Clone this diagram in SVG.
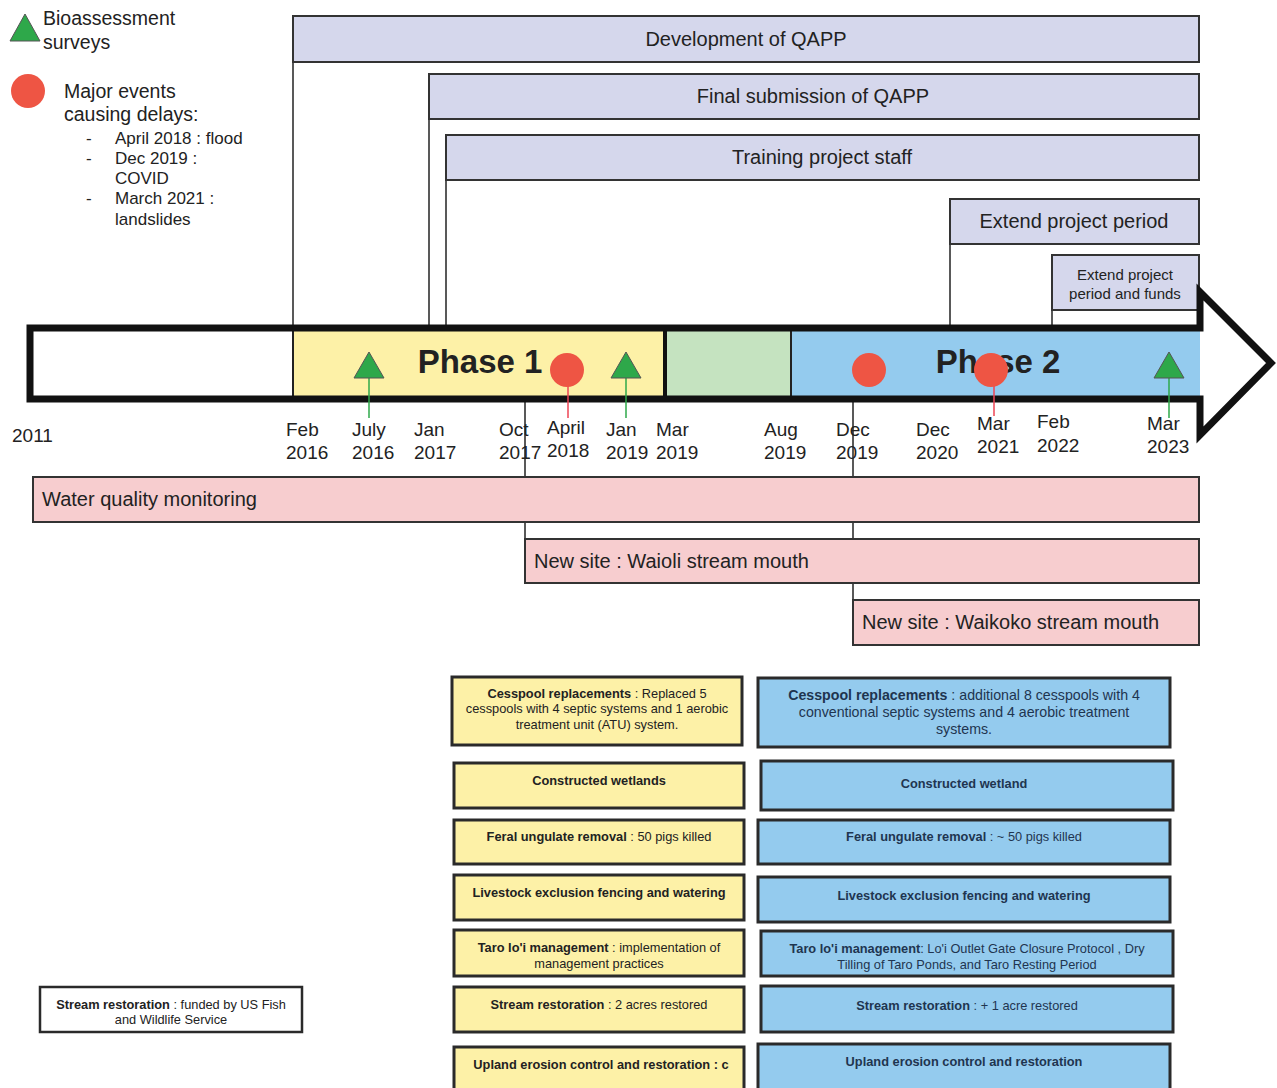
<svg xmlns="http://www.w3.org/2000/svg" width="1277" height="1088" viewBox="0 0 1277 1088">
<style>
text{font-family:"Liberation Sans",Arial,sans-serif;fill:#222}
.bar{fill:#d5d7ec;stroke:#333;stroke-width:2}
.pink{fill:#f7cdcf;stroke:#333;stroke-width:2}
.yb{fill:#fdf1a7;stroke:#2a2a2a;stroke-width:3}
.bb{fill:#94cbee;stroke:#2a2a2a;stroke-width:3}
.wb{fill:#fff;stroke:#2a2a2a;stroke-width:2.5}
.lbl{font-size:19px}
.top{font-size:20px;text-anchor:middle}
.bt{font-size:12.8px;text-anchor:middle}
.bbt{font-size:12.8px;text-anchor:middle;fill:#1f3550}
.big{font-size:14.2px}
.b{font-weight:bold}
.ln{stroke:#222;stroke-width:1.5;fill:none}
.tri{fill:#2ea84a;stroke:#555;stroke-width:1}
.dot{fill:#ee5544}
</style>

<g id="legend">
<polygon class="tri" points="25,14 40,41 10,41"/>
<text x="43" y="25" font-size="19.5">Bioassessment</text>
<text x="43" y="49" font-size="19.5">surveys</text>
<circle class="dot" cx="28" cy="91" r="17"/>
<text x="64" y="98" font-size="19.5">Major events</text>
<text x="64" y="121" font-size="19.5">causing delays:</text>
<g font-size="17">
<text x="86" y="144">-</text><text x="115" y="144">April 2018 : flood</text>
<text x="86" y="164">-</text><text x="115" y="164">Dec 2019 :</text>
<text x="115" y="184">COVID</text>
<text x="86" y="204">-</text><text x="115" y="204">March 2021 :</text>
<text x="115" y="225">landslides</text>
</g>
</g>

<g id="connectors">
<line class="ln" x1="293" y1="62" x2="293" y2="328"/>
<line class="ln" x1="429" y1="119" x2="429" y2="328"/>
<line class="ln" x1="446" y1="180" x2="446" y2="328"/>
<line class="ln" x1="950" y1="244" x2="950" y2="328"/>
<line class="ln" x1="1052" y1="310" x2="1052" y2="328"/>
<line class="ln" x1="1199" y1="310" x2="1199" y2="328"/>
<line class="ln" x1="525" y1="400" x2="525" y2="583"/>
<line class="ln" x1="853" y1="400" x2="853" y2="645"/>
</g>

<g id="qapp-dev"><rect class="bar" x="293" y="16" width="906" height="46"/><text class="top" x="746" y="46">Development of QAPP</text></g>
<g id="qapp-final"><rect class="bar" x="429" y="74" width="770" height="45"/><text class="top" x="813" y="103">Final submission of QAPP</text></g>
<g id="training"><rect class="bar" x="446" y="135" width="753" height="45"/><text class="top" x="822" y="164">Training project staff</text></g>
<g id="extend"><rect class="bar" x="950" y="199" width="249" height="45"/><text class="top" x="1074" y="228">Extend project period</text></g>
<g id="extend-funds"><rect class="bar" x="1052" y="255" width="147" height="55"/><text x="1125" y="280" font-size="15" text-anchor="middle">Extend project</text><text x="1125" y="299" font-size="15" text-anchor="middle">period and funds</text></g>

<g id="timeline">
<polygon points="30,328 1200,328 1200,292 1271,363 1200,435 1200,399 30,399" fill="#fff"/>
<rect x="293" y="328" width="372" height="71" fill="#fdf1a7"/>
<rect x="665" y="328" width="126" height="71" fill="#c5e3c0"/>
<rect x="791" y="328" width="409" height="71" fill="#94cbee"/>
<line x1="293" y1="328" x2="293" y2="399" stroke="#222" stroke-width="2"/>
<line x1="665" y1="328" x2="665" y2="399" stroke="#111" stroke-width="4"/>
<line x1="791" y1="328" x2="791" y2="399" stroke="#222" stroke-width="2"/>
<polygon points="30,328 1200,328 1200,292 1271,363 1200,435 1200,399 30,399" fill="none" stroke="#111" stroke-width="7" stroke-linejoin="miter"/>
<text x="480" y="373" font-size="33" font-weight="bold" text-anchor="middle">Phase 1</text>
<text x="998" y="373" font-size="33" font-weight="bold" text-anchor="middle">Phase 2</text>
</g>

<g id="markers">
<line x1="369" y1="376" x2="369" y2="418" stroke="#2ea84a" stroke-width="1.5"/>
<polygon class="tri" points="369,352 384,378 354,378"/>
<line x1="626" y1="376" x2="626" y2="418" stroke="#2ea84a" stroke-width="1.5"/>
<polygon class="tri" points="626,352 641,378 611,378"/>
<line x1="1169" y1="376" x2="1169" y2="418" stroke="#2ea84a" stroke-width="1.5"/>
<polygon class="tri" points="1169,352 1184,378 1154,378"/>
<line x1="568" y1="380" x2="568" y2="418" stroke="#ee4455" stroke-width="1.5"/>
<circle class="dot" cx="567" cy="370" r="17"/>
<circle class="dot" cx="869" cy="370" r="17"/>
<line x1="994" y1="380" x2="994" y2="416" stroke="#ee4455" stroke-width="1.5"/>
<circle class="dot" cx="991" cy="370" r="17"/>
</g>

<g id="dates" class="lbl">
<text x="12" y="442">2011</text>
<text x="286" y="436">Feb</text><text x="286" y="459">2016</text>
<text x="352" y="436">July</text><text x="352" y="459">2016</text>
<text x="414" y="436">Jan</text><text x="414" y="459">2017</text>
<text x="499" y="436">Oct</text><text x="499" y="459">2017</text>
<text x="547" y="434">April</text><text x="547" y="457">2018</text>
<text x="606" y="436">Jan</text><text x="606" y="459">2019</text>
<text x="656" y="436">Mar</text><text x="656" y="459">2019</text>
<text x="764" y="436">Aug</text><text x="764" y="459">2019</text>
<text x="836" y="436">Dec</text><text x="836" y="459">2019</text>
<text x="916" y="436">Dec</text><text x="916" y="459">2020</text>
<text x="977" y="430">Mar</text><text x="977" y="453">2021</text>
<text x="1037" y="428">Feb</text><text x="1037" y="452">2022</text>
<text x="1147" y="430">Mar</text><text x="1147" y="453">2023</text>
</g>

<g id="water-quality"><rect class="pink" x="33" y="477" width="1166" height="45"/><text x="42" y="506" font-size="20">Water quality monitoring</text></g>
<g id="waioli"><rect class="pink" x="525" y="539" width="674" height="44"/><text x="534" y="568" font-size="20">New site : Waioli stream mouth</text></g>
<g id="waikoko"><rect class="pink" x="853" y="600" width="346" height="45"/><text x="862" y="629" font-size="20">New site : Waikoko stream mouth</text></g>

<g id="p1-cesspool"><rect class="yb" x="452" y="677" width="290" height="68"/>
<text class="bt" x="597" y="698"><tspan class="b">Cesspool replacements</tspan> : Replaced 5</text>
<text class="bt" x="597" y="713">cesspools with 4 septic systems and 1 aerobic</text>
<text class="bt" x="597" y="729">treatment unit (ATU) system.</text></g>
<g id="p1-wetlands"><rect class="yb" x="454" y="763" width="290" height="45"/><text class="bt b" x="599" y="785">Constructed wetlands</text></g>
<g id="p1-feral"><rect class="yb" x="454" y="820" width="290" height="44"/><text class="bt" x="599" y="841"><tspan class="b">Feral ungulate removal</tspan> : 50 pigs killed</text></g>
<g id="p1-livestock"><rect class="yb" x="454" y="875" width="290" height="45"/><text class="bt b" x="599" y="897">Livestock exclusion fencing and watering</text></g>
<g id="p1-taro"><rect class="yb" x="454" y="930" width="290" height="46"/>
<text class="bt" x="599" y="952"><tspan class="b">Taro lo'i management</tspan> : implementation of</text>
<text class="bt" x="599" y="968">management practices</text></g>
<g id="p1-stream"><rect class="yb" x="454" y="987" width="290" height="45"/><text class="bt" x="599" y="1009"><tspan class="b">Stream restoration</tspan> : 2 acres restored</text></g>
<g id="p1-upland"><rect class="yb" x="454" y="1047" width="290" height="50"/><text class="bt b" x="601" y="1069">Upland erosion control and restoration : c</text></g>

<g id="p2-cesspool"><rect class="bb" x="758" y="678" width="412" height="69"/>
<text class="bbt big" x="964" y="700"><tspan class="b">Cesspool replacements</tspan> : additional 8 cesspools with 4</text>
<text class="bbt big" x="964" y="717">conventional septic systems and 4 aerobic treatment</text>
<text class="bbt big" x="964" y="734">systems.</text></g>
<g id="p2-wetland"><rect class="bb" x="761" y="761" width="412" height="49"/><text class="bbt b" x="964" y="788">Constructed wetland</text></g>
<g id="p2-feral"><rect class="bb" x="758" y="820" width="412" height="44"/><text class="bbt" x="964" y="841"><tspan class="b">Feral ungulate removal</tspan> : ~ 50 pigs killed</text></g>
<g id="p2-livestock"><rect class="bb" x="758" y="877" width="412" height="45"/><text class="bbt b" x="964" y="900">Livestock exclusion fencing and watering</text></g>
<g id="p2-taro"><rect class="bb" x="761" y="931" width="412" height="45"/>
<text class="bbt" x="967" y="953"><tspan class="b">Taro lo'i management</tspan>: Lo'i Outlet Gate Closure Protocol , Dry</text>
<text class="bbt" x="967" y="969">Tilling of Taro Ponds, and Taro Resting Period</text></g>
<g id="p2-stream"><rect class="bb" x="761" y="986" width="412" height="46"/><text class="bbt" x="967" y="1010"><tspan class="b">Stream restoration</tspan> : + 1 acre restored</text></g>
<g id="p2-upland"><rect class="bb" x="758" y="1044" width="412" height="52"/><text class="bbt b" x="964" y="1066">Upland erosion control and restoration</text></g>

<g id="funding"><rect class="wb" x="40" y="987" width="262" height="45"/>
<text class="bt" x="171" y="1009"><tspan class="b">Stream restoration</tspan> : funded by US Fish</text>
<text class="bt" x="171" y="1024">and Wildlife Service</text></g>
</svg>
